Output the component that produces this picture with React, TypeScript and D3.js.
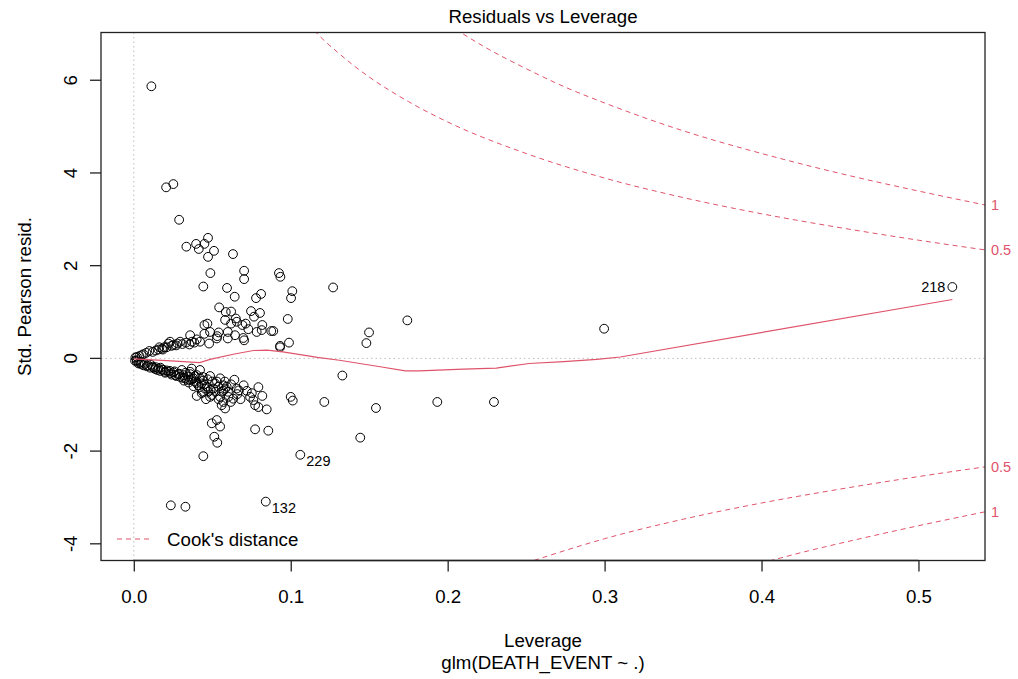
import * as d3 from 'd3';
import React, { useEffect, useRef } from 'react';

// leverage / std. pearson residual pairs
const upperPoints: [number, number][] = [
  [0.0112, 5.87], [0.0206, 3.69], [0.0252, 3.76], [0.0289, 2.99], [0.0335, 2.41], [0.0397, 2.47],
  [0.0414, 2.36], [0.045, 2.47], [0.0473, 2.6], [0.0511, 2.32], [0.0473, 2.19], [0.0632, 2.25],
  [0.0488, 1.84], [0.0703, 1.89], [0.0703, 1.71], [0.0925, 1.84], [0.0934, 1.76],
  [0.0443, 1.55], [0.0594, 1.52], [0.0643, 1.33], [0.0811, 1.39], [0.0779, 1.3], [0.101, 1.45],
  [0.1002, 1.3], [0.0544, 1.1], [0.0586, 1.0], [0.062, 1.01], [0.0747, 1.02], [0.0804, 0.98],
  [0.0766, 0.9], [0.0981, 0.85], [0.0582, 0.83], [0.065, 0.86], [0.0656, 0.79], [0.062, 0.75],
  [0.0469, 0.75], [0.045, 0.72], [0.0692, 0.72], [0.0713, 0.75], [0.073, 0.63], [0.0819, 0.72],
  [0.0815, 0.61], [0.0876, 0.59], [0.0889, 0.59], [0.0783, 0.57], [0.0486, 0.57], [0.045, 0.53],
  [0.0541, 0.56], [0.0599, 0.57], [0.0599, 0.43], [0.0532, 0.48], [0.0529, 0.43], [0.0645, 0.5],
  [0.0698, 0.44], [0.0703, 0.39], [0.048, 0.32], [0.0401, 0.41], [0.0359, 0.5], [0.0422, 0.36],
  [0.0386, 0.34], [0.0354, 0.3], [0.0333, 0.34], [0.0295, 0.36], [0.0278, 0.32], [0.0252, 0.29],
  [0.022, 0.32], [0.0231, 0.36], [0.0195, 0.24], [0.0185, 0.19], [0.0157, 0.19], [0.0163, 0.24],
  [0.0099, 0.16], [0.0061, 0.09], [0.0036, 0.05], [0.0989, 0.34], [0.0932, 0.24], [0.0932, 0.27],
  [0.001, 0.02], [0.002, 0.03], [0.005, 0.07], [0.008, 0.12], [0.012, 0.14], [0.014, 0.17],
  [0.018, 0.21], [0.021, 0.24], [0.024, 0.27], [0.027, 0.28], [0.031, 0.31], [0.037, 0.36],
];

const lowerPoints: [number, number][] = [
  [0.0008, -0.05], [0.0019, -0.07], [0.003, -0.11], [0.0045, -0.12], [0.0061, -0.15], [0.0083, -0.17],
  [0.0104, -0.2], [0.0125, -0.2], [0.0136, -0.23], [0.0157, -0.22], [0.0168, -0.27], [0.0189, -0.25],
  [0.0199, -0.29], [0.022, -0.29], [0.0236, -0.32], [0.0252, -0.3], [0.0263, -0.36], [0.0284, -0.34],
  [0.0295, -0.4], [0.0316, -0.36], [0.0327, -0.43], [0.0348, -0.4], [0.0359, -0.47], [0.038, -0.43],
  [0.0391, -0.5], [0.0306, -0.25], [0.0359, -0.29], [0.0369, -0.22], [0.0422, -0.25], [0.0401, -0.36],
  [0.0422, -0.43], [0.0411, -0.58], [0.0433, -0.54], [0.0443, -0.48], [0.0454, -0.65], [0.0465, -0.61],
  [0.0486, -0.38], [0.0475, -0.72], [0.0401, -0.81], [0.0433, -0.75], [0.0497, -0.79], [0.0507, -0.65],
  [0.0518, -0.54], [0.0539, -0.61], [0.055, -0.43], [0.0571, -0.58], [0.0582, -0.65], [0.056, -0.72],
  [0.0486, -0.83], [0.055, -0.83], [0.0571, -0.94], [0.056, -1.01], [0.0582, -1.08], [0.0592, -0.61],
  [0.0641, -0.46], [0.0656, -0.65], [0.0603, -0.83], [0.0634, -0.87], [0.0618, -0.94], [0.0752, -0.75],
  [0.0794, -0.62], [0.0741, -0.83], [0.0762, -0.9], [0.0819, -0.81], [0.0773, -1.01], [0.0794, -1.05],
  [0.0847, -1.1], [0.1, -0.83], [0.1013, -0.91], [0.0497, -1.4], [0.0529, -1.33], [0.055, -1.47],
  [0.0773, -1.53], [0.0857, -1.56], [0.0513, -1.69], [0.0532, -1.82], [0.0443, -2.11],
  [0.002, -0.04], [0.004, -0.09], [0.005, -0.07], [0.007, -0.12], [0.009, -0.15], [0.011, -0.14],
  [0.012, -0.18], [0.014, -0.19], [0.015, -0.25], [0.017, -0.2], [0.018, -0.24], [0.02, -0.31],
  [0.021, -0.26], [0.023, -0.27], [0.024, -0.35], [0.026, -0.28], [0.027, -0.38], [0.029, -0.33],
  [0.031, -0.42], [0.033, -0.31], [0.034, -0.46], [0.036, -0.34], [0.037, -0.45], [0.039, -0.38],
  [0.04, -0.53], [0.042, -0.62], [0.044, -0.4], [0.045, -0.56], [0.047, -0.45], [0.049, -0.68],
  [0.05, -0.5], [0.052, -0.72], [0.053, -0.5], [0.054, -0.88], [0.057, -0.7], [0.058, -0.5],
  [0.06, -0.72], [0.062, -0.56], [0.066, -0.77], [0.067, -0.69], [0.068, -0.88], [0.07, -0.58],
  [0.072, -0.7], [0.046, -0.88], [0.044, -0.72], [0.038, -0.6], [0.035, -0.52], [0.032, -0.48],
];

const farPoints: [number, number][] = [
  [0.127, 1.53], [0.1499, 0.56], [0.1482, 0.33], [0.1743, 0.82], [0.2997, 0.64], [0.5216, 1.54],
  [0.1214, -0.94], [0.1329, -0.37], [0.1543, -1.07], [0.1443, -1.71], [0.1934, -0.94], [0.2295, -0.94],
  [0.1061, -2.08], [0.0236, -3.17], [0.0329, -3.2], [0.0841, -3.09],
];

const idLabels = [
  { id: '218', lev: 0.5216, res: 1.54, side: 'left' },
  { id: '229', lev: 0.1061, res: -2.08, side: 'right' },
  { id: '132', lev: 0.0841, res: -3.09, side: 'right' },
];

// red smoother through the points
const smoothLine: [number, number][] = [
  [0, -0.01], [0.021, -0.05], [0.042, -0.09], [0.0486, -0.02], [0.0634, 0.09], [0.0762, 0.17],
  [0.085, 0.18], [0.095, 0.14], [0.106, 0.08], [0.117, 0.02], [0.131, -0.04], [0.157, -0.18],
  [0.173, -0.27], [0.182, -0.27], [0.21, -0.23], [0.231, -0.21], [0.252, -0.11], [0.274, -0.07],
  [0.295, -0.02], [0.31, 0.03], [0.5216, 1.27],
];

// Cook's distance contours (0.5 and 1), upper and lower
const cookHalfUpper: [number, number][] = [
  [0.115, 7.07], [0.12, 6.9], [0.13, 6.6], [0.14, 6.32], [0.15, 6.07], [0.175, 5.54], [0.2, 5.1],
  [0.25, 4.42], [0.3, 3.89], [0.35, 3.47], [0.4, 3.12], [0.45, 2.82], [0.5, 2.55], [0.5424, 2.34],
];
const cookOneUpper: [number, number][] = [
  [0.205, 7.1], [0.225, 6.69], [0.25, 6.25], [0.275, 5.85], [0.3, 5.51], [0.35, 4.91], [0.4, 4.42],
  [0.45, 3.99], [0.5, 3.61], [0.5424, 3.31],
];
const cookHalfLower: [number, number][] = [
  [0.255, -4.36], [0.28, -4.09], [0.3, -3.89], [0.35, -3.47], [0.4, -3.12], [0.45, -2.82],
  [0.5, -2.55], [0.5424, -2.34],
];
const cookOneLower: [number, number][] = [
  [0.405, -4.37], [0.43, -4.15], [0.45, -3.99], [0.5, -3.61], [0.5424, -3.31],
];
const cookLabels = [
  { text: '1', y: 3.31 }, { text: '0.5', y: 2.34 }, { text: '0.5', y: -2.34 }, { text: '1', y: -3.31 },
];

const xTicks = [0, 0.1, 0.2, 0.3, 0.4, 0.5];
const yTicks = [-4, -2, 0, 2, 4, 6];
const yTickLabels = ['-4', '-2', '0', '2', '4', '6'];

const RED = '#DF536B';
const FONT = '"Liberation Sans", Arial, sans-serif';

const App = () => {
  const svgRef = useRef<SVGSVGElement>(null);

  useEffect(() => {
    const width = 1018;
    const height = 679;
    const left = 101, right = 985, top = 32.5, bottom = 560.5;

    const x = d3.scaleLinear().domain([-0.0209, 0.5424]).range([left, right]);
    const y = d3.scaleLinear().domain([-4.36, 7.03]).range([bottom, top]);

    const svg = d3.select(svgRef.current);
    svg.selectAll('*').remove();
    svg.attr('width', width).attr('height', height);

    svg.append('rect').attr('width', width).attr('height', height).attr('fill', '#fff');

    svg.append('clipPath').attr('id', 'plotclip')
      .append('rect')
      .attr('x', left).attr('y', top)
      .attr('width', right - left).attr('height', bottom - top);

    const plot = svg.append('g').attr('clip-path', 'url(#plotclip)');

    // grey dotted reference lines
    plot.append('line')
      .attr('x1', left).attr('x2', right).attr('y1', y(0)).attr('y2', y(0))
      .attr('stroke', '#bebebe').attr('stroke-dasharray', '1.5,3');
    plot.append('line')
      .attr('x1', x(0)).attr('x2', x(0)).attr('y1', top).attr('y2', bottom)
      .attr('stroke', '#bebebe').attr('stroke-dasharray', '1.5,3');

    const curve = d3.line<[number, number]>()
      .x(d => x(d[0]))
      .y(d => y(d[1]))
      .curve(d3.curveMonotoneX);

    // Cook's distance curves
    [cookHalfUpper, cookOneUpper, cookHalfLower, cookOneLower].forEach(c => {
      plot.append('path')
        .datum(c)
        .attr('fill', 'none')
        .attr('stroke', RED)
        .attr('stroke-width', 1)
        .attr('stroke-dasharray', '5,4')
        .attr('d', curve);
    });

    // points
    const allPoints = [...upperPoints, ...lowerPoints, ...farPoints];
    plot.selectAll('circle.pt')
      .data(allPoints)
      .enter()
      .append('circle')
      .attr('class', 'pt')
      .attr('cx', d => x(d[0]))
      .attr('cy', d => y(d[1]))
      .attr('r', 4.4)
      .attr('fill', 'none')
      .attr('stroke', '#000')
      .attr('stroke-width', 1);

    // smoother, piecewise straight like R's lines()
    plot.append('path')
      .datum(smoothLine)
      .attr('fill', 'none')
      .attr('stroke', RED)
      .attr('stroke-width', 1.2)
      .attr('d', d3.line<[number, number]>().x(d => x(d[0])).y(d => y(d[1])));

    // point labels
    svg.selectAll('text.id')
      .data(idLabels)
      .enter()
      .append('text')
      .attr('class', 'id')
      .attr('x', d => x(d.lev) + (d.side === 'left' ? -7 : 6))
      .attr('y', d => y(d.res) + (d.side === 'left' ? 5.5 : 11))
      .attr('text-anchor', d => (d.side === 'left' ? 'end' : 'start'))
      .attr('font-family', FONT)
      .attr('font-size', 14.5)
      .attr('fill', '#000')
      .text(d => d.id);

    // box
    svg.append('rect')
      .attr('x', left).attr('y', top)
      .attr('width', right - left).attr('height', bottom - top)
      .attr('fill', 'none').attr('stroke', '#222').attr('stroke-width', 1.3);

    // x axis
    const xAxis = svg.append('g')
      .attr('transform', `translate(0,${bottom})`)
      .call(d3.axisBottom(x).tickValues(xTicks).tickFormat(d3.format('.1f')).tickSize(11).tickPadding(18));
    xAxis.select('.domain').remove();
    xAxis.selectAll('line').attr('stroke', '#222').attr('stroke-width', 1.3);
    xAxis.selectAll('text').attr('font-family', FONT).attr('font-size', 18.7).attr('fill', '#000');
    xAxis.append('line')
      .attr('x1', x(xTicks[0])).attr('x2', x(xTicks[xTicks.length - 1]))
      .attr('stroke', '#222').attr('stroke-width', 1.3);

    // y axis
    const yAxis = svg.append('g');
    yAxis.selectAll('line.tick')
      .data(yTicks)
      .enter()
      .append('line')
      .attr('x1', left - 11).attr('x2', left)
      .attr('y1', d => y(d)).attr('y2', d => y(d))
      .attr('stroke', '#222').attr('stroke-width', 1.3);
    yAxis.selectAll('text')
      .data(yTicks)
      .enter()
      .append('text')
      .attr('transform', d => `translate(77,${y(d)}) rotate(-90)`)
      .attr('text-anchor', 'middle')
      .attr('font-family', FONT)
      .attr('font-size', 18.7)
      .attr('fill', '#000')
      .text((d, i) => yTickLabels[i]);

    // cook level labels on the right
    svg.selectAll('text.cook')
      .data(cookLabels)
      .enter()
      .append('text')
      .attr('class', 'cook')
      .attr('x', right + 6)
      .attr('y', d => y(d.y))
      .attr('dy', '0.35em')
      .attr('font-family', FONT)
      .attr('font-size', 14.5)
      .attr('fill', RED)
      .text(d => d.text);

    // titles
    svg.append('text')
      .attr('x', (left + right) / 2).attr('y', 23.3)
      .attr('text-anchor', 'middle')
      .attr('font-family', FONT).attr('font-size', 18.7)
      .text('Residuals vs Leverage');
    svg.append('text')
      .attr('x', (left + right) / 2).attr('y', 647)
      .attr('text-anchor', 'middle')
      .attr('font-family', FONT).attr('font-size', 18.7)
      .text('Leverage');
    svg.append('text')
      .attr('x', (left + right) / 2).attr('y', 669)
      .attr('text-anchor', 'middle')
      .attr('font-family', FONT).attr('font-size', 18.7)
      .text('glm(DEATH_EVENT ~ .)');
    svg.append('text')
      .attr('transform', `translate(31,${(top + bottom) / 2}) rotate(-90)`)
      .attr('text-anchor', 'middle')
      .attr('font-family', FONT).attr('font-size', 18.7)
      .text('Std. Pearson resid.');

    // legend
    svg.append('line')
      .attr('x1', 117).attr('x2', 153).attr('y1', 539).attr('y2', 539)
      .attr('stroke', RED).attr('stroke-dasharray', '5,4');
    svg.append('text')
      .attr('x', 167).attr('y', 546)
      .attr('font-family', FONT).attr('font-size', 18.7)
      .text("Cook's distance");
  }, []);

  return <svg ref={svgRef} style={{ position: 'absolute', left: 0, top: 0 }}></svg>;
};

export default App;
